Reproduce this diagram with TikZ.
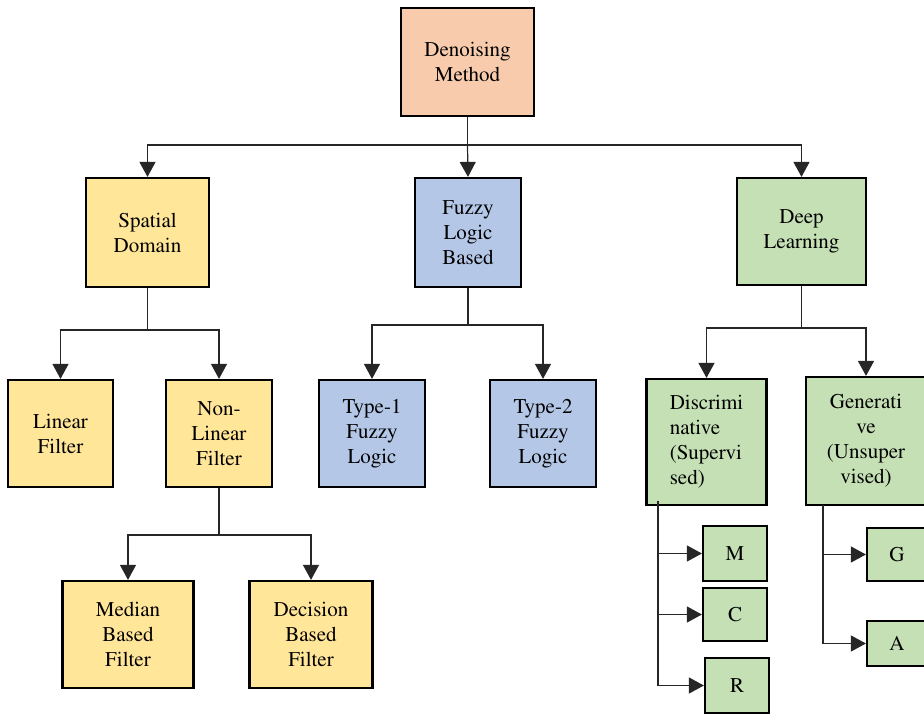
\documentclass[tikz,border=0pt]{standalone}
\usepackage[T1]{fontenc}
\usepackage{times}
\usetikzlibrary{arrows.meta}
\definecolor{cOrange}{HTML}{F8CBAD}
\definecolor{cYellow}{HTML}{FFE699}
\definecolor{cBlue}{HTML}{B4C7E7}
\definecolor{cGreen}{HTML}{C5E0B4}
\tikzset{
  box/.style={draw=black, line width=2.2pt, inner sep=0pt, align=center,
    font=\rmfamily\fontsize{21}{25}\selectfont},
  conn/.style={draw=black!85, line width=1.2pt},
  arr/.style={conn, -{Triangle[width=16pt,length=15pt]}},
}
\begin{document}
\begin{tikzpicture}[x=1pt,y=-1pt]
\useasboundingbox (0,0) rectangle (924,714);
\begin{scope}
\clip (0,0) rectangle (924,714);
% level 0
\node[box, fill=cOrange, minimum width=133, minimum height=108] (root) at (467.5,62) {Denoising\\Method};
% level 1
\node[box, fill=cYellow, minimum width=123, minimum height=109] (sd) at (147.5,232.5) {Spatial\\Domain};
\node[box, fill=cBlue, minimum width=106, minimum height=109] (fz) at (468,232.5) {Fuzzy\\Logic\\Based};
\node[box, fill=cGreen, minimum width=129, minimum height=107] (dl) at (801.5,231.5) {Deep\\Learning};
% level 2
\node[box, fill=cYellow, minimum width=105, minimum height=107] (lin) at (60.5,433.5) {Linear\\Filter};
\node[box, fill=cYellow, minimum width=106, minimum height=107] (nl) at (219,433.5) {Non-\\Linear\\Filter};
\node[box, fill=cBlue, minimum width=106, minimum height=107] (t1) at (372,433.5) {Type-1\\Fuzzy\\Logic};
\node[box, fill=cBlue, minimum width=106, minimum height=107] (t2) at (543,433.5) {Type-2\\Fuzzy\\Logic};
\node[box, fill=cGreen, minimum width=120, minimum height=126, align=left] (disc) at (706.5,442) {Discrimi\\native\\(Supervi\\sed)};
\node[box, fill=cGreen, minimum width=120, minimum height=128] (gen) at (866,441) {Generati\\ve\\(Unsuper\\vised)};
% level 3
\node[box, fill=cYellow, minimum width=131, minimum height=107] (med) at (128,634.5) {Median\\Based\\Filter};
\node[box, fill=cYellow, minimum width=123, minimum height=107] (dec) at (311,634.5) {Decision\\Based\\Filter};
\node[box, fill=cGreen, minimum width=64, minimum height=55] (M) at (735,553.5) {M};
\node[box, fill=cGreen, minimum width=64, minimum height=53] (C) at (735,614.5) {C};
\node[box, fill=cGreen, minimum width=64, minimum height=55] (R) at (737,685.5) {R};
\node[box, fill=cGreen, minimum width=60, minimum height=53] (G) at (897,554.5) {G};
\node[box, fill=cGreen, minimum width=60, minimum height=45] (A) at (897,643.5) {A};
% junctions
\coordinate (b0) at (467.5,145);
\coordinate (b1) at (147.5,330);
\coordinate (b2) at (468,325);
\coordinate (b3) at (801.5,328);
\coordinate (b4) at (219,535);
\coordinate (d0) at (658,501);
\coordinate (g0) at (823,505);
% connectors
\draw[conn] (root.south) -- (b0);
\draw[arr] (b0) -| (sd.north);
\draw[arr] (b0) -- (fz.north);
\draw[arr] (b0) -| (dl.north);
\draw[conn] (sd.south) -- (b1);
\draw[arr] (b1) -| (lin.north);
\draw[arr] (b1) -| (nl.north);
\draw[conn] (fz.south) -- (b2);
\draw[arr] (b2) -| (t1.north);
\draw[arr] (b2) -| (t2.north);
\draw[conn] (dl.south) -- (b3);
\draw[arr] (b3) -| (disc.north);
\draw[arr] (b3) -| (gen.north);
\draw[conn] (nl.south) -- (b4);
\draw[arr] (b4) -| (med.north);
\draw[arr] (b4) -| (dec.north);
\draw[arr] (d0) |- (M.west);
\draw[arr] (d0) |- (C.west);
\draw[arr] (d0) |- (R.west);
\draw[arr] (g0) |- (G.west);
\draw[arr] (g0) |- (A.west);
\end{scope}
\end{tikzpicture}
\end{document}
